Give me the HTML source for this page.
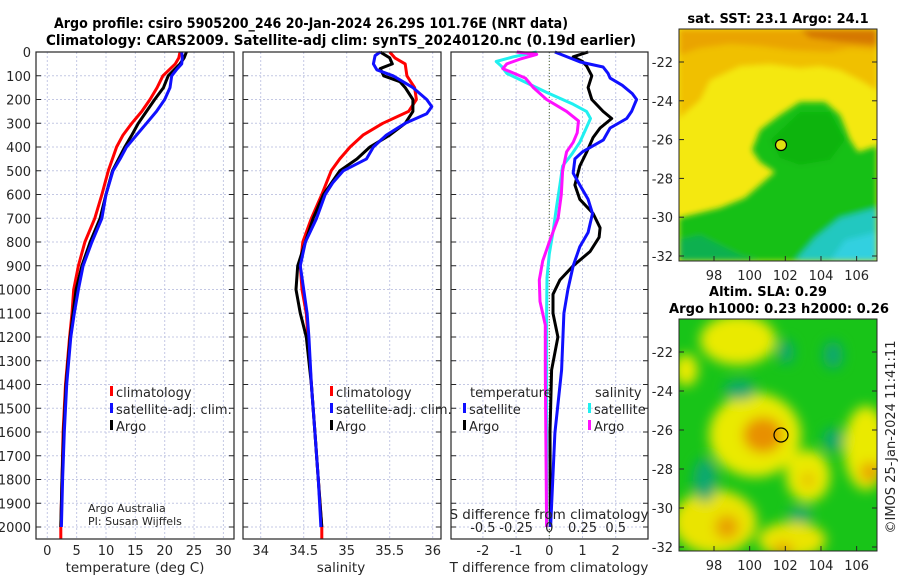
<!DOCTYPE html>
<html><head><meta charset="utf-8">
<style>
html,body{margin:0;padding:0;background:#fff;}
svg text{font-family:"DejaVu Sans","Liberation Sans",sans-serif;fill:#262626;}
.b{font-weight:bold;fill:#000;}
</style></head>
<body>
<svg id="fig" xmlns="http://www.w3.org/2000/svg" width="900" height="580" viewBox="0 0 900 580">
<defs>
<filter id="blur3" x="-10%" y="-10%" width="120%" height="120%"><feGaussianBlur stdDeviation="3"/></filter>
<filter id="blur6" x="-20%" y="-20%" width="140%" height="140%"><feGaussianBlur stdDeviation="6"/></filter>
<clipPath id="clipTop"><rect x="679" y="29" width="198" height="232"/></clipPath>
<clipPath id="clipBot"><rect x="679" y="319" width="198" height="232"/></clipPath>
</defs>
<g>
<text class="b" x="311" y="28" font-size="14" text-anchor="middle" textLength="514" lengthAdjust="spacingAndGlyphs">Argo profile: csiro 5905200_246 20-Jan-2024 26.29S 101.76E (NRT data)</text>
<text class="b" x="341" y="45" font-size="14" text-anchor="middle" textLength="590" lengthAdjust="spacingAndGlyphs">Climatology: CARS2009. Satellite-adj clim: synTS_20240120.nc (0.19d earlier)</text>
</g>
<g id="panels"></g>
<g id="maps">
<text class="b" x="778" y="23" font-size="13" text-anchor="middle">sat. SST: 23.1 Argo: 24.1</text>
<g clip-path="url(#clipTop)">
<rect x="679" y="29" width="198" height="232" fill="#f4e810"/>
<g filter="url(#blur3)">
<polygon points="679,29 877,29 877,90 860,80 840,70 820,66 800,68 770,64 740,66 710,80 700,100 679,118" fill="#f0c000"/>
<polygon points="679,29 877,29 877,50 850,48 830,52 790,50 760,46 730,44 700,48 679,55" fill="#eaa400"/>
<polygon points="800,29 877,29 877,45 840,42 810,38" fill="#d67800"/>
<polygon points="679,218 720,208 745,198 760,185 775,172 760,162 752,150 760,130 780,115 800,102 825,102 840,115 850,140 858,152 877,146 877,261 679,261" fill="#18c018"/>
<polygon points="770,140 800,112 830,112 845,140 830,160 800,165 780,158" fill="#10b410"/>
<polygon points="679,240 700,235 720,245 740,255 760,261 679,261" fill="#10b050"/>
<polygon points="795,261 815,238 840,218 877,208 877,261" fill="#20c8c0"/>
<polygon points="830,261 845,240 877,232 877,261" fill="#30d0e0"/>
</g>
<circle cx="781" cy="145" r="5.5" fill="#e0e010" stroke="#000" stroke-width="1.2"/>
</g>
<rect x="679" y="29" width="198" height="232" fill="none" stroke="#262626" stroke-width="1"/>
<text class="b" x="768" y="296" font-size="13" text-anchor="middle">Altim. SLA: 0.29</text>
<text class="b" x="779" y="313" font-size="13" text-anchor="middle" textLength="220" lengthAdjust="spacingAndGlyphs">Argo h1000: 0.23 h2000: 0.26</text>
<g clip-path="url(#clipBot)">
<rect x="679" y="319" width="198" height="232" fill="#18c418"/>
<g filter="url(#blur6)">
<ellipse cx="738" cy="340" rx="38" ry="25" fill="#eaea00"/>
<ellipse cx="686" cy="370" rx="12" ry="16" fill="#eaea00"/>
<ellipse cx="755" cy="435" rx="46" ry="42" fill="#eaea00"/>
<ellipse cx="763" cy="435" rx="20" ry="18" fill="#e89000"/>
<ellipse cx="866" cy="448" rx="22" ry="42" fill="#eaea00"/>
<ellipse cx="870" cy="472" rx="10" ry="10" fill="#e8a000"/>
<ellipse cx="808" cy="476" rx="22" ry="26" fill="#eaea00"/>
<ellipse cx="808" cy="480" rx="7" ry="8" fill="#e8c000"/>
<ellipse cx="715" cy="522" rx="42" ry="32" fill="#eae400"/>
<ellipse cx="727" cy="527" rx="12" ry="12" fill="#e8a000"/>
<ellipse cx="792" cy="540" rx="34" ry="18" fill="#eae400"/>
<ellipse cx="783" cy="550" rx="10" ry="7" fill="#e8a000"/>
<ellipse cx="740" cy="390" rx="16" ry="10" fill="#10a870"/>
<ellipse cx="786" cy="352" rx="8" ry="12" fill="#10a870"/>
<ellipse cx="833" cy="355" rx="10" ry="14" fill="#10a870"/>
<ellipse cx="833" cy="440" rx="10" ry="12" fill="#10a870"/>
<ellipse cx="705" cy="480" rx="12" ry="22" fill="#10a870"/>
<ellipse cx="800" cy="515" rx="12" ry="8" fill="#10a870"/>
</g>
<circle cx="781" cy="435" r="7" fill="none" stroke="#000" stroke-width="1.2"/>
</g>
<rect x="679" y="319" width="198" height="232" fill="none" stroke="#262626" stroke-width="1"/>
<text x="895" y="437" font-size="13" text-anchor="middle" transform="rotate(-90 895 437)">©IMOS 25-Jan-2024 11:41:11</text>
</g>
</svg>
<script>
// ---------- data ----------
const depthTicks = [0,100,200,300,400,500,600,700,800,900,1000,1100,1200,1300,1400,1500,1600,1700,1800,1900,2000];
const tempTicks = [0,5,10,15,20,25,30];
const salTicks = [34,34.5,35,35.5,36];
const salTickLabels = ["34","34.5","35","35.5","36"];
const dTTicks = [-2,-1,0,1,2];
const dSTicks = [-0.5,-0.25,0,0.25,0.5];
const dSTickLabels = ["-0.5","-0.25","0","0.25","0.5"];

const tClimDepth = [0,25,50,100,150,200,250,300,350,400,500,600,700,800,900,1000,1100,1200,1400,1600,1800,2000,2050];
const tClim = [22.6,22.4,21.8,19.7,18.7,17.5,16.1,14.4,12.9,11.8,10.4,9.3,8.1,6.4,5.3,4.5,4.2,3.8,3.1,2.7,2.5,2.3,2.3];
const tSatDepth = [0,25,50,75,100,150,200,250,300,350,400,450,500,600,700,800,900,1000,1100,1200,1400,1600,1800,2000];
const tSat = [22.9,23.0,22.9,22.0,21.2,20.9,20.0,18.6,16.9,15.2,13.5,12.4,11.2,10.0,9.3,7.6,6.1,5.3,4.6,4.0,3.3,2.9,2.6,2.4];
const tArgoDepth = [0,25,50,100,150,200,250,300,350,400,500,600,700,800,900,1000,1100,1200,1400,1600,1800,2000];
const tArgo = [23.7,23.3,22.6,20.6,19.8,18.3,16.9,15.5,14.4,13.2,11.1,10.0,9.0,7.3,5.9,4.9,4.4,3.9,3.2,2.8,2.5,2.3];

const sClimDepth = [0,25,50,100,150,200,250,300,350,400,450,500,600,700,800,900,1000,1100,1200,1400,1600,1800,2000,2050];
const sClim = [35.50,35.56,35.68,35.70,35.79,35.81,35.72,35.42,35.19,35.04,34.92,34.82,34.71,34.59,34.49,34.46,34.48,34.53,34.55,34.59,34.63,34.67,34.71,34.71];
const sSatDepth = [0,15,50,75,100,150,200,230,260,300,350,400,450,500,550,600,700,800,900,1000,1100,1200,1400,1600,1800,2000];
const sSat = [35.39,35.33,35.31,35.35,35.54,35.77,35.93,35.99,35.93,35.68,35.46,35.31,35.23,34.96,34.84,34.75,34.65,34.52,34.46,34.50,34.54,34.56,34.59,34.63,34.67,34.70];
const sArgoDepth = [0,25,50,70,100,125,150,200,250,300,350,400,450,500,600,700,800,900,1000,1100,1200,1400,1600,1800,2000];
const sArgo = [35.39,35.50,35.53,35.39,35.43,35.62,35.68,35.77,35.77,35.68,35.50,35.27,35.12,34.92,34.73,34.61,34.52,34.43,34.41,34.46,34.53,34.59,34.63,34.67,34.71];

const dTSatDepth = [0,42,63,90,110,140,175,200,250,280,320,370,420,450,510,560,620,680,760,820,900,1000,1050,1100,1339,1604,2000];
const dTSat = [0.17,0.93,1.62,1.77,1.83,2.2,2.5,2.63,2.48,2.33,1.83,1.63,1.0,0.77,0.72,0.92,1.17,1.3,1.17,0.92,0.72,0.56,0.5,0.44,0.37,0.17,0.04];
const dTArgoDepth = [0,20,40,60,100,150,200,250,280,320,360,420,480,560,620,680,740,780,840,900,960,1020,1100,1200,1339,1600,2000];
const dTArgo = [1.17,0.72,1.0,1.13,1.28,1.17,1.28,1.62,1.88,1.53,1.32,1.13,0.92,0.77,0.92,1.32,1.53,1.5,1.23,0.72,0.32,0.11,0.11,0.26,0.07,0.02,0.03];
const dSSatDepth = [0,20,40,60,90,130,170,220,250,280,330,380,430,480,560,650,750,850,950,1100,1339,2000];
const dSSat = [-0.095,-0.27,-0.40,-0.36,-0.32,-0.17,-0.02,0.18,0.28,0.31,0.27,0.23,0.17,0.10,0.08,0.055,0.03,0.0,-0.017,-0.02,-0.02,-0.02];
const dSArgoDepth = [0,10,30,50,70,110,150,200,250,290,340,380,420,500,600,700,800,880,960,1050,1150,1339,2000];
const dSArgo = [-0.245,-0.095,-0.22,-0.32,-0.35,-0.18,-0.12,-0.02,0.13,0.22,0.21,0.18,0.13,0.10,0.09,0.066,0.0,-0.05,-0.075,-0.07,-0.03,-0.03,-0.02];

const mapLatTicks = [-22,-24,-26,-28,-30,-32];
const mapLonTicks = [98,100,102,104,106];

// ---------- scales ----------
const yD = d => 52 + d*0.2375;
const xT = t => 47.3 + 5.87*t;
const xS = s => 260.7 + 86*(s-34);
const xDT = v => 549.3 + 33.2*v;
const xDS = v => 549.3 + 132.8*v;
const topLatY = lat => 62 + (-22-lat)*19.4;
const botLatY = lat => 352 + (-22-lat)*19.5;
const lonX = lon => 714 + (lon-98)*17.83;

const NS='http://www.w3.org/2000/svg';
const root=document.getElementById('panels');
function mk(tag,attrs,parent){const e=document.createElementNS(NS,tag);for(const k in attrs)e.setAttribute(k,attrs[k]);(parent||root).appendChild(e);return e;}
function txt(s,attrs,parent){const e=mk('text',attrs,parent);e.textContent=s;return e;}

const panels=[{x0:36,x1:234,name:'temperature-panel'},{x0:243,x1:441,name:'salinity-panel'},{x0:451,x1:648,name:'difference-panel'}];
const Y0=52,Y1=539;
panels.forEach((p,i)=>{
  const g=mk('g',{});
  
  
  p.g=g;
  depthTicks.forEach(d=>{
    const y=yD(d);
    const gl=mk('line',{x1:p.x0,x2:p.x1,y1:y,y2:y,stroke:'#c4c8e4','stroke-width':1,'stroke-dasharray':'2,2'},g);
    
    
    mk('line',{x1:p.x0,x2:p.x0+5,y1:y,y2:y,stroke:'#262626'},g);
    mk('line',{x1:p.x1-5,x2:p.x1,y1:y,y2:y,stroke:'#262626'},g);
  });
});
function vgrid(p,xs){xs.forEach(x=>{const l=mk('line',{x1:x,x2:x,y1:Y0,y2:Y1,stroke:'#c4c8e4','stroke-width':1,'stroke-dasharray':'2,2'},p.g);
  
  });}
vgrid(panels[0],tempTicks.map(xT));
vgrid(panels[1],salTicks.map(xS));
vgrid(panels[2],dTTicks.map(xDT));
mk('line',{x1:xDT(0),x2:xDT(0),y1:Y0,y2:Y1,stroke:'#556b2f','stroke-width':1,'stroke-dasharray':'1,2'},panels[2].g);

depthTicks.forEach(d=>{const t=txt(String(d),{x:31,y:yD(d)+5,'font-size':13,'text-anchor':'end'});
  
  });
tempTicks.forEach(t=>{const e=txt(String(t),{x:xT(t),y:555,'font-size':13,'text-anchor':'middle'});
  
  });
salTicks.forEach((s,i)=>{const e=txt(salTickLabels[i],{x:xS(s),y:555,'font-size':13,'text-anchor':'middle'});
  
  });
dTTicks.forEach(v=>{const e=txt(String(v),{x:xDT(v),y:555,'font-size':13,'text-anchor':'middle'});
  
  });
dSTicks.forEach((v,i)=>{const e=txt(dSTickLabels[i],{x:xDS(v),y:532,'font-size':13,'text-anchor':'middle'});
  
  });
let e;
e=txt('temperature (deg C)',{x:135,y:572,'font-size':13.5,'text-anchor':'middle'});


e=txt('salinity',{x:341,y:572,'font-size':13.5,'text-anchor':'middle'});


e=txt('T difference from climatology',{x:549,y:572,'font-size':13.5,'text-anchor':'middle'});


e=txt('S difference from climatology',{x:549,y:519,'font-size':13.5,'text-anchor':'middle'});


e=txt('Argo Australia',{x:88,y:512,'font-size':11});


txt('PI: Susan Wijffels',{x:88,y:525,'font-size':11});

function line(depths,vals,xf,color,name,parent){
  const pts=depths.map((d,i)=>xf(vals[i]).toFixed(1)+','+yD(d).toFixed(1)).join(' ');
  const pl=mk('polyline',{points:pts,fill:'none',stroke:color,'stroke-width':3,'stroke-linejoin':'round'},parent);
  
  
}
line(tClimDepth,tClim,xT,'#ff0000','temperature-climatology-line',panels[0].g);
line(tArgoDepth,tArgo,xT,'#000000','temperature-argo-line',panels[0].g);
line(tSatDepth,tSat,xT,'#1010ff','temperature-satellite-line',panels[0].g);
line(sClimDepth,sClim,xS,'#ff0000','salinity-climatology-line',panels[1].g);
line(sArgoDepth,sArgo,xS,'#000000','salinity-argo-line',panels[1].g);
line(sSatDepth,sSat,xS,'#1010ff','salinity-satellite-line',panels[1].g);
line(dSSatDepth,dSSat,xDS,'#20f0f0','sdiff-satellite-line',panels[2].g);
line(dSArgoDepth,dSArgo,xDS,'#ff10ff','sdiff-argo-line',panels[2].g);
line(dTArgoDepth,dTArgo,xDT,'#000000','tdiff-argo-line',panels[2].g);
line(dTSatDepth,dTSat,xDT,'#1010ff','tdiff-satellite-line',panels[2].g);

panels.forEach(p=>{mk('rect',{x:p.x0,y:Y0,width:p.x1-p.x0,height:Y1-Y0,fill:'none',stroke:'#262626','stroke-width':1.2},p.g);});

function legItem(x,y,color,label,name){
  const g=mk('g',{});
  
  
  mk('rect',{x:x,y:y-11,width:3,height:10,fill:color},g);
  txt(label,{x:x+6,y:y,'font-size':13},g);
}
legItem(110,397,'#ff0000','climatology','legend-climatology');
legItem(110,414,'#1010ff','satellite-adj. clim.','legend-satellite-adj');
legItem(110,431,'#000000','Argo','legend-argo');
legItem(330,397,'#ff0000','climatology','legend-sal-climatology');
legItem(330,414,'#1010ff','satellite-adj. clim.','legend-sal-satellite-adj');
legItem(330,431,'#000000','Argo','legend-sal-argo');
e=txt('temperature',{x:470,y:397,'font-size':13});


legItem(463,414,'#1010ff','satellite','legend-tdiff-satellite');
legItem(463,431,'#000000','Argo','legend-tdiff-argo');
e=txt('salinity',{x:595,y:397,'font-size':13});


legItem(588,414,'#20f0f0','satellite','legend-sdiff-satellite');
legItem(588,431,'#ff10ff','Argo','legend-sdiff-argo');

const mg=document.getElementById('maps');
mapLatTicks.forEach(lat=>{
  [[topLatY(lat)],[botLatY(lat)]].forEach(([y])=>{
    const t=txt(String(lat),{x:673,y:y+5,'font-size':13,'text-anchor':'end'},mg);
    
    
    mk('line',{x1:877,x2:872,y1:y,y2:y,stroke:'#262626'},mg);
    mk('line',{x1:679,x2:684,y1:y,y2:y,stroke:'#262626'},mg);
  });
});
mapLonTicks.forEach(lon=>{
  const x=lonX(lon);
  [[261,280],[551,570]].forEach(([yb,yl])=>{
    const t=txt(String(lon),{x:x,y:yl,'font-size':13,'text-anchor':'middle'},mg);
    
    
    mk('line',{x1:x,x2:x,y1:yb,y2:yb-5,stroke:'#262626'},mg);
  });
});
</script>
</body></html>
